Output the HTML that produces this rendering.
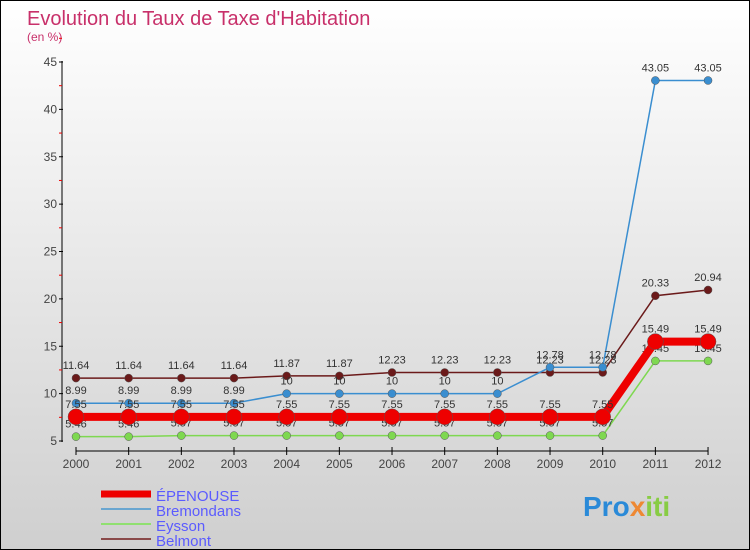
<!DOCTYPE html>
<html><head><meta charset="utf-8"><style>
body{margin:0}
#c{width:748px;height:548px;border:1px solid #000;background:linear-gradient(#ffffff,#cfcfcf);position:relative;font-family:"Liberation Sans",sans-serif;overflow:hidden}
</style></head><body>
<div id="c">
<svg width="748" height="548" style="position:absolute;left:0;top:0">
<text x="26" y="24" font-size="20" fill="#c8306a">Evolution du Taux de Taxe d'Habitation</text>
<text x="26" y="40" font-size="12" fill="#c8306a">(en %)</text>
<g id="axes"></g><g id="series"></g>
<g>
<line x1="100" y1="493" x2="150" y2="493" stroke="#e00" stroke-width="7"/>
<text x="155" y="500" font-size="15" fill="#5b5bff">ÉPENOUSE</text>
<line x1="100" y1="508" x2="150" y2="508" stroke="#6aa6d0" stroke-width="2"/>
<text x="155" y="515" font-size="15" fill="#5b5bff">Bremondans</text>
<line x1="100" y1="523" x2="150" y2="523" stroke="#90e070" stroke-width="2"/>
<text x="155" y="530" font-size="15" fill="#5b5bff">Eysson</text>
<line x1="100" y1="538" x2="150" y2="538" stroke="#8a4a4a" stroke-width="2"/>
<text x="155" y="545" font-size="15" fill="#5b5bff">Belmont</text>
</g>
<text x="582" y="515" font-size="28" font-weight="bold"><tspan fill="#2a8ad8">Pro</tspan><tspan fill="#e83">x</tspan><tspan fill="#8c4">iti</tspan></text>
</svg>
</div>
<script>
const years=[2000,2001,2002,2003,2004,2005,2006,2007,2008,2009,2010,2011,2012];
const yTicks=[5,10,15,20,25,30,35,40,45];
const epenouse=[7.55,7.55,7.55,7.55,7.55,7.55,7.55,7.55,7.55,7.55,7.55,15.49,15.49];
const bremondans=[8.99,8.99,8.99,8.99,10,10,10,10,10,12.78,12.78,43.05,43.05];
const eysson=[5.46,5.46,5.57,5.57,5.57,5.57,5.57,5.57,5.57,5.57,5.57,13.45,13.45];
const belmont=[11.64,11.64,11.64,11.64,11.87,11.87,12.23,12.23,12.23,12.23,12.23,20.33,20.94];
const NS='http://www.w3.org/2000/svg';
const xs=i=>75+i*52.67;
const ys=v=>440-(v-5)*(379/40);
function mk(t,a,p){const e=document.createElementNS(NS,t);for(const k in a)e.setAttribute(k,a[k]);p.appendChild(e);return e;}
const ax=document.getElementById('axes');
const yaxis=mk('line',{x1:61,y1:60,x2:61,y2:441,stroke:'#000','stroke-width':1},ax);


yTicks.forEach(t=>{const y=ys(t);
 mk('line',{x1:58,y1:y,x2:62,y2:y,stroke:'#000'},ax);
 mk('line',{x1:58,y1:ys(t+2.5),x2:61,y2:ys(t+2.5),stroke:'#e00'},ax);
 const tx=mk('text',{x:56,y:y+4,'font-size':12,fill:'#444','text-anchor':'end'},ax);tx.textContent=t;
 
 });
const xaxis=mk('line',{x1:75,y1:450,x2:707,y2:450,stroke:'#000'},ax);


years.forEach((yr,i)=>{mk('line',{x1:xs(i),y1:446,x2:xs(i),y2:454,stroke:'#000'},ax);
 const tx=mk('text',{x:xs(i),y:467,'font-size':12,fill:'#444','text-anchor':'middle'},ax);tx.textContent=yr;
 
 });
const sg=document.getElementById('series');
function draw(name,data,color,w,r){
 const g=mk('g',{},sg);
 
 
 const pl=mk('polyline',{points:data.map((v,i)=>xs(i)+','+ys(v)).join(' '),fill:'none',stroke:color,'stroke-width':w},g);
 
 
 data.forEach((v,i)=>{const c=mk('circle',{cx:xs(i),cy:ys(v),r:r,fill:color,stroke:'#555','stroke-width':0.5},g);
  
  
  const t=mk('text',{x:xs(i),y:ys(v)-9,'font-size':11,fill:'#333','text-anchor':'middle'},g);t.textContent=v;
  
  });
}
draw('belmont',belmont,'#6b1a1a',1.5,4);
draw('bremondans',bremondans,'#3a8ed0',1.5,4);
draw('eysson',eysson,'#7ed850',1.5,4);
draw('epenouse',epenouse,'#ee0000',8,8);
</script>
</body></html>
